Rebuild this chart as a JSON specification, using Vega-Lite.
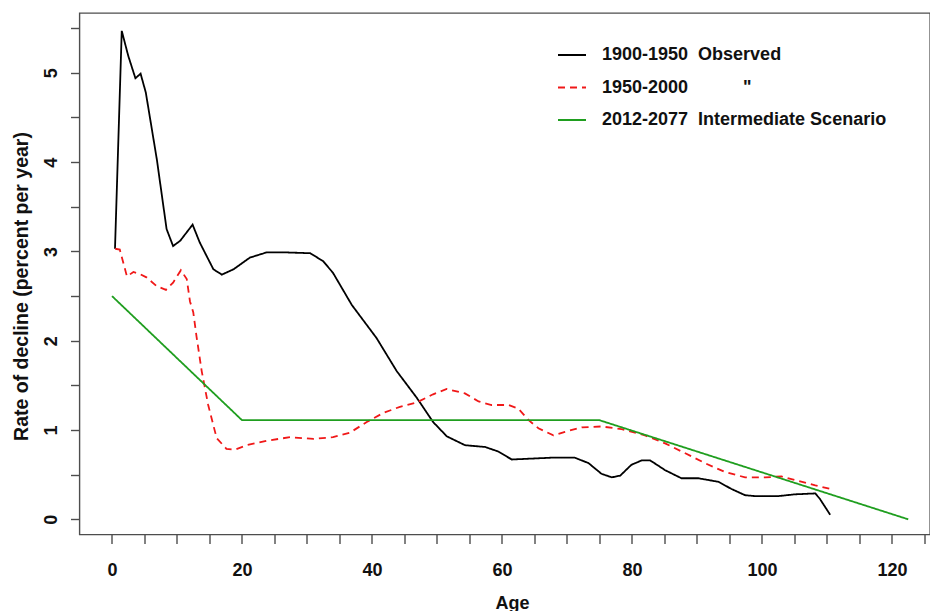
{
  "$schema": "https://vega.github.io/schema/vega-lite/v6.json",
  "width": 850.5,
  "height": 521.5,
  "autosize": {"type": "none"},
  "padding": {"left": 79.5, "top": 13, "right": 0, "bottom": 76.5},
  "background": "white",
  "config": {
    "view": {"stroke": "#4d4d4d", "strokeWidth": 1.4},
    "font": "Liberation Sans",
    "axis": {
      "grid": false, "domain": false,
      "tickColor": "#4d4d4d", "tickWidth": 1.4, "tickSize": 9,
      "labelFont": "Liberation Sans", "labelFontWeight": "bold", "labelFontSize": 18, "labelColor": "#111111",
      "titleFont": "Liberation Sans", "titleFontWeight": "bold", "titleFontSize": 18, "titleColor": "#111111",
      "labelOverlap": false, "labelFlush": false
    },
    "legend": {
      "orient": "none", "legendX": 477.5, "legendY": 27, "padding": 0,
      "symbolType": "stroke", "symbolSize": 784, "symbolStrokeWidth": 2,
      "labelFont": "Liberation Sans", "labelFontSize": 18, "labelFontWeight": "bold", "labelColor": "#111111",
      "labelOffset": 15, "rowPadding": 8.5, "labelLimit": 600
    }
  },
  "data": {"values": [
    {"series": "1900-1950", "age": 0.46, "rate": 3.03},
    {"series": "1900-1950", "age": 1.5, "rate": 5.47},
    {"series": "1900-1950", "age": 2.5, "rate": 5.19},
    {"series": "1900-1950", "age": 3.6, "rate": 4.94},
    {"series": "1900-1950", "age": 4.4, "rate": 4.99},
    {"series": "1900-1950", "age": 5.2, "rate": 4.78},
    {"series": "1900-1950", "age": 6.9, "rate": 4.03},
    {"series": "1900-1950", "age": 8.4, "rate": 3.25},
    {"series": "1900-1950", "age": 9.4, "rate": 3.06},
    {"series": "1900-1950", "age": 10.5, "rate": 3.12},
    {"series": "1900-1950", "age": 12.4, "rate": 3.30},
    {"series": "1900-1950", "age": 13.5, "rate": 3.10},
    {"series": "1900-1950", "age": 15.6, "rate": 2.80},
    {"series": "1900-1950", "age": 16.9, "rate": 2.74},
    {"series": "1900-1950", "age": 18.7, "rate": 2.80},
    {"series": "1900-1950", "age": 21.2, "rate": 2.93},
    {"series": "1900-1950", "age": 23.8, "rate": 2.99},
    {"series": "1900-1950", "age": 26.3, "rate": 2.99},
    {"series": "1900-1950", "age": 30.5, "rate": 2.98},
    {"series": "1900-1950", "age": 32.5, "rate": 2.89},
    {"series": "1900-1950", "age": 34.0, "rate": 2.76},
    {"series": "1900-1950", "age": 36.9, "rate": 2.40},
    {"series": "1900-1950", "age": 40.7, "rate": 2.03},
    {"series": "1900-1950", "age": 43.8, "rate": 1.66},
    {"series": "1900-1950", "age": 46.9, "rate": 1.36},
    {"series": "1900-1950", "age": 49.4, "rate": 1.09},
    {"series": "1900-1950", "age": 51.5, "rate": 0.93},
    {"series": "1900-1950", "age": 54.3, "rate": 0.83},
    {"series": "1900-1950", "age": 57.4, "rate": 0.81},
    {"series": "1900-1950", "age": 59.4, "rate": 0.76},
    {"series": "1900-1950", "age": 61.5, "rate": 0.67},
    {"series": "1900-1950", "age": 64.6, "rate": 0.68},
    {"series": "1900-1950", "age": 67.6, "rate": 0.69},
    {"series": "1900-1950", "age": 71.2, "rate": 0.69},
    {"series": "1900-1950", "age": 73.3, "rate": 0.63},
    {"series": "1900-1950", "age": 75.3, "rate": 0.51},
    {"series": "1900-1950", "age": 76.9, "rate": 0.47},
    {"series": "1900-1950", "age": 78.2, "rate": 0.49},
    {"series": "1900-1950", "age": 79.9, "rate": 0.61},
    {"series": "1900-1950", "age": 81.5, "rate": 0.66},
    {"series": "1900-1950", "age": 82.8, "rate": 0.66},
    {"series": "1900-1950", "age": 85.1, "rate": 0.55},
    {"series": "1900-1950", "age": 87.6, "rate": 0.46},
    {"series": "1900-1950", "age": 90.2, "rate": 0.46},
    {"series": "1900-1950", "age": 93.3, "rate": 0.42},
    {"series": "1900-1950", "age": 95.3, "rate": 0.34},
    {"series": "1900-1950", "age": 97.4, "rate": 0.27},
    {"series": "1900-1950", "age": 98.9, "rate": 0.26},
    {"series": "1900-1950", "age": 102.5, "rate": 0.26},
    {"series": "1900-1950", "age": 105.1, "rate": 0.28},
    {"series": "1900-1950", "age": 108.2, "rate": 0.29},
    {"series": "1900-1950", "age": 108.9, "rate": 0.23},
    {"series": "1900-1950", "age": 110.5, "rate": 0.05},
    {"series": "1950-2000", "age": 0.5, "rate": 3.03},
    {"series": "1950-2000", "age": 1.2, "rate": 3.02},
    {"series": "1950-2000", "age": 2.3, "rate": 2.72},
    {"series": "1950-2000", "age": 3.3, "rate": 2.77},
    {"series": "1950-2000", "age": 4.2, "rate": 2.75},
    {"series": "1950-2000", "age": 5.3, "rate": 2.71},
    {"series": "1950-2000", "age": 6.9, "rate": 2.61},
    {"series": "1950-2000", "age": 8.3, "rate": 2.57},
    {"series": "1950-2000", "age": 9.4, "rate": 2.65},
    {"series": "1950-2000", "age": 10.6, "rate": 2.79},
    {"series": "1950-2000", "age": 11.5, "rate": 2.69},
    {"series": "1950-2000", "age": 12.0, "rate": 2.44},
    {"series": "1950-2000", "age": 12.5, "rate": 2.32},
    {"series": "1950-2000", "age": 13.0, "rate": 2.05},
    {"series": "1950-2000", "age": 13.8, "rate": 1.66},
    {"series": "1950-2000", "age": 14.8, "rate": 1.28},
    {"series": "1950-2000", "age": 16.1, "rate": 0.91},
    {"series": "1950-2000", "age": 17.6, "rate": 0.79},
    {"series": "1950-2000", "age": 18.9, "rate": 0.78},
    {"series": "1950-2000", "age": 20.7, "rate": 0.83},
    {"series": "1950-2000", "age": 23.8, "rate": 0.88},
    {"series": "1950-2000", "age": 27.4, "rate": 0.92},
    {"series": "1950-2000", "age": 31.0, "rate": 0.90},
    {"series": "1950-2000", "age": 34.0, "rate": 0.92},
    {"series": "1950-2000", "age": 36.6, "rate": 0.97},
    {"series": "1950-2000", "age": 39.2, "rate": 1.09},
    {"series": "1950-2000", "age": 41.7, "rate": 1.19},
    {"series": "1950-2000", "age": 44.3, "rate": 1.26},
    {"series": "1950-2000", "age": 46.9, "rate": 1.31},
    {"series": "1950-2000", "age": 49.4, "rate": 1.40},
    {"series": "1950-2000", "age": 51.5, "rate": 1.46},
    {"series": "1950-2000", "age": 54.3, "rate": 1.41},
    {"series": "1950-2000", "age": 56.4, "rate": 1.32},
    {"series": "1950-2000", "age": 58.4, "rate": 1.28},
    {"series": "1950-2000", "age": 61.0, "rate": 1.28},
    {"series": "1950-2000", "age": 62.5, "rate": 1.24},
    {"series": "1950-2000", "age": 64.1, "rate": 1.11},
    {"series": "1950-2000", "age": 65.6, "rate": 1.02},
    {"series": "1950-2000", "age": 67.9, "rate": 0.94},
    {"series": "1950-2000", "age": 69.7, "rate": 0.98},
    {"series": "1950-2000", "age": 72.3, "rate": 1.03},
    {"series": "1950-2000", "age": 75.3, "rate": 1.04},
    {"series": "1950-2000", "age": 78.4, "rate": 1.01},
    {"series": "1950-2000", "age": 82.0, "rate": 0.94},
    {"series": "1950-2000", "age": 85.1, "rate": 0.85},
    {"series": "1950-2000", "age": 88.2, "rate": 0.74},
    {"series": "1950-2000", "age": 91.2, "rate": 0.63},
    {"series": "1950-2000", "age": 94.3, "rate": 0.53},
    {"series": "1950-2000", "age": 97.4, "rate": 0.47},
    {"series": "1950-2000", "age": 100.5, "rate": 0.47},
    {"series": "1950-2000", "age": 103.0, "rate": 0.48},
    {"series": "1950-2000", "age": 105.6, "rate": 0.43},
    {"series": "1950-2000", "age": 108.2, "rate": 0.38},
    {"series": "1950-2000", "age": 110.5, "rate": 0.34},
    {"series": "2012-2077", "age": 0, "rate": 2.5},
    {"series": "2012-2077", "age": 20, "rate": 1.11},
    {"series": "2012-2077", "age": 75, "rate": 1.11},
    {"series": "2012-2077", "age": 122.5, "rate": 0.0}
  ]},
  "mark": {"type": "line", "strokeWidth": 1.8, "clip": true},
  "encoding": {
    "x": {
      "field": "age", "type": "quantitative",
      "scale": {"domain": [-5, 125.85], "nice": false, "zero": false},
      "axis": {
        "values": [0, 5, 10, 15, 20, 25, 30, 35, 40, 45, 50, 55, 60, 65, 70, 75, 80, 85, 90, 95, 100, 105, 110, 115, 120, 125],
        "labelExpr": "datum.value % 20 === 0 ? datum.label : ''",
        "labelBaseline": "alphabetic", "labelPadding": 31.5,
        "title": "Age", "titlePadding": 15, "titleX": 432.5
      }
    },
    "y": {
      "field": "rate", "type": "quantitative",
      "scale": {"domain": [-0.17, 5.67], "nice": false, "zero": false},
      "axis": {
        "values": [0, 0.5, 1, 1.5, 2, 2.5, 3, 3.5, 4, 4.5, 5, 5.5],
        "format": ".0f",
        "labelExpr": "datum.value % 1 === 0 ? format(datum.value, '.0f') : ''",
        "labelAngle": 270, "labelAlign": "center", "labelBaseline": "alphabetic", "labelPadding": 14,
        "title": "Rate of decline (percent per year)", "titleFontSize": 19.5, "titlePadding": 11, "titleY": 273
      }
    },
    "color": {
      "field": "series", "type": "nominal",
      "scale": {"domain": ["1900-1950", "1950-2000", "2012-2077"], "range": ["#000000", "#f01818", "#1f9e1f"]},
      "legend": {
        "title": null,
        "labelExpr": "datum.label === '1900-1950' ? '1900-1950\u00a0\u00a0Observed' : datum.label === '1950-2000' ? '1950-2000\u00a0\u00a0\u00a0\u00a0\u00a0\u00a0\u00a0\u00a0\u00a0\u00a0\u00a0\"' : '2012-2077\u00a0\u00a0Intermediate Scenario'"
      }
    },
    "strokeDash": {
      "field": "series", "type": "nominal",
      "scale": {"domain": ["1900-1950", "1950-2000", "2012-2077"], "range": [[1, 0], [7, 5], [1, 0]]},
      "legend": {"title": null}
    }
  }
}
